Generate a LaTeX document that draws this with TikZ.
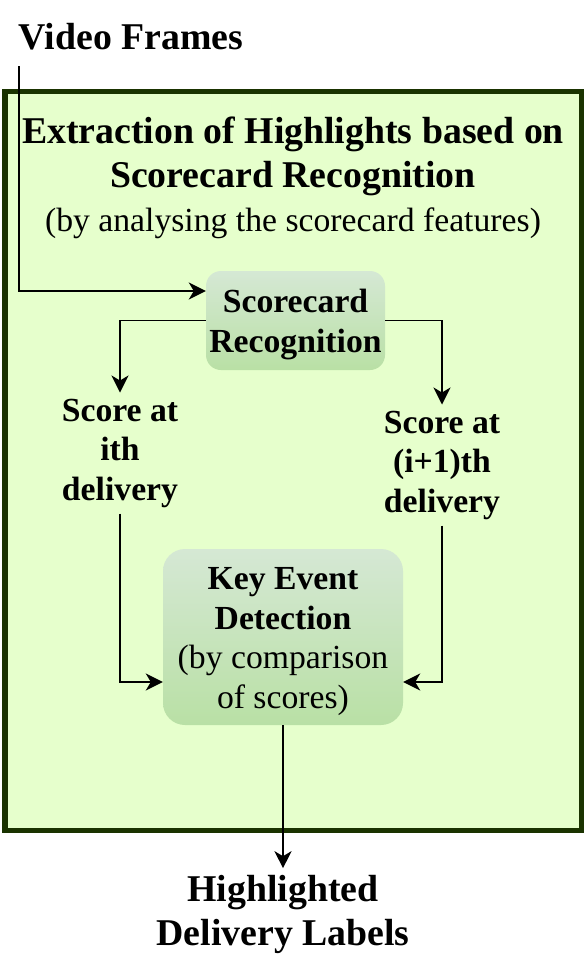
\documentclass[tikz,border=0pt]{standalone}
\usepackage{fontspec}
\setmainfont{Liberation Serif}
\usetikzlibrary{positioning,arrows.meta}
\definecolor{boxfill}{HTML}{E6FFCC}
\definecolor{boxline}{HTML}{1A3300}
\definecolor{gtop}{HTML}{D5E8D4}
\definecolor{gbottom}{HTML}{B9E0A5}
\newcommand{\boxstrut}{\rule[-7.9pt]{0pt}{39.5pt}}

\tikzset{
bigfont/.style={font=\bfseries\fontsize{37.8}{44}\selectfont},
midfont/.style={font=\fontsize{33.7}{39.5}\selectfont},
boldmid/.style={font=\bfseries\fontsize{33.7}{39.5}\selectfont},
greenbox/.style={rounded corners=#1, top color=gtop, bottom color=gbottom, draw=none, align=center, inner sep=0pt},
flow/.style={line width=1.9pt, -{Stealth[length=17pt,width=17pt,inset=5pt]}}
}

\begin{document}
\begin{tikzpicture}[x=1pt,y=-1pt]
\useasboundingbox (0,0) rectangle (586,956);
\draw [boxline, fill=boxfill, line width=5.5pt] (5,91.5) rectangle (581.5,830.5);

\node [bigfont, inner sep=0pt] (frames) at (131,36.5) {Video Frames};
\node [bigfont, align=center, inner sep=0pt] (title) at (293,177.5)
{Extraction of Highlights based on\\Scorecard Recognition\\{\mdseries\fontsize{33.7}{44}\selectfont (by analysing the scorecard features)}};

\node [greenbox=15pt, boldmid, minimum width=179pt, minimum height=99pt] (scard) at (295.5,320.5) {\boxstrut Scorecard\\Recognition\boxstrut};
\node [boldmid, align=center, inner sep=6pt] (scoreI) at (120,453) {Score at\\ith\\delivery};
\node [boldmid, align=center, inner sep=6pt] (scoreJ) at (442,465) {Score at\\(i+1)th\\delivery};
\node [greenbox=22pt, midfont, minimum width=240pt, minimum height=176pt] (keyev) at (283,637)
{\boxstrut{\bfseries Key Event}\\{\bfseries Detection}\\(by comparison\\of scores)\boxstrut};
\node [bigfont, align=center, inner sep=7pt, below=143pt of keyev] (labels) {Highlighted\\Delivery Labels};

\draw [flow] ([xshift=0.5pt,yshift=-16pt]frames.south west) |- ([yshift=29.5pt]scard.west);
\draw [flow] (scard.west) -| (scoreI.north);
\draw [flow] (scard.east) -| (scoreJ.north);
\draw [flow] (scoreI.south) |- ([yshift=-45pt]keyev.west);
\draw [flow] (scoreJ.south) |- ([yshift=-45pt]keyev.east);
\draw [flow] (keyev.south) -- (labels.north);
\end{tikzpicture}
\end{document}
